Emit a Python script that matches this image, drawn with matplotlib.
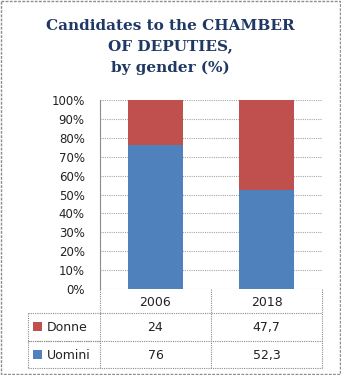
import matplotlib.pyplot as plt
from matplotlib.patches import Rectangle

years = ["2006", "2018"]
donne = [24, 47.7]
uomini = [76, 52.3]
series_names = ["Donne", "Uomini"]
yticks = list(range(0, 101, 10))

c_red = "#C0504D"
c_blue = "#4F81BD"
c_line = "#8c8c8c"
c_text = "#222222"

W, H = 341, 375
fig = plt.figure(figsize=(W / 100, H / 100), dpi=100)

# overlay axes in pixel coordinates for frame, title and table
ov = fig.add_axes([0, 0, 1, 1])
ov.set_xlim(0, W)
ov.set_ylim(H, 0)
ov.axis("off")

# plot area in pixel coords
x0, x1, ytop, ybot = 100, 322, 100, 289
ax = fig.add_axes([x0 / W, 1 - ybot / H, (x1 - x0) / W, (ybot - ytop) / H])

x = range(len(years))
ax.bar(x, uomini, width=0.5, color=c_blue, zorder=3)
ax.bar(x, donne, width=0.5, bottom=uomini, color=c_red, zorder=3)

ax.set_xlim(-0.5, len(years) - 0.5)
ax.set_ylim(0, 100)
ax.set_yticks(yticks)
ax.set_yticklabels([f"{v}%" for v in yticks], fontsize=8.5, color=c_text)
ax.tick_params(axis="y", length=0, pad=11)
ax.set_xticks([])
ax.grid(axis="y", color="#a6a6a6", linestyle=(0, (1, 1)), linewidth=0.8, zorder=0)
for side in ["top", "right", "bottom"]:
    ax.spines[side].set_visible(False)
ax.spines["left"].set_color(c_line)
ax.spines["left"].set_linewidth(0.8)
ax.spines["left"].set_linestyle((0, (1, 1)))

# data table below the chart
tleft = 28
col_w = (x1 - x0) / len(years)
hdr_h, row_h = 24, 27.5
rows = [donne, uomini]
colors = [c_red, c_blue]
ls = dict(color=c_line, lw=0.8, linestyle=(0, (1, 1)))
fs = 9

# header row (no label cell)
ov.plot([x0, x1], [ybot + hdr_h] * 2, **ls)
ov.plot([x1, x1], [ybot, ybot + hdr_h + row_h * len(rows)], **ls)
for j, yr in enumerate(years):
    xl = x0 + j * col_w
    ov.plot([xl, xl], [ybot, ybot + hdr_h + row_h * len(rows)], **ls)
    ov.text(xl + col_w / 2, ybot + hdr_h / 2 + 1, yr, ha="center", va="center",
            fontsize=fs, color=c_text)

ov.plot([tleft, tleft], [ybot + hdr_h, ybot + hdr_h + row_h * len(rows)], **ls)
for i, (name, vals, col) in enumerate(zip(series_names, rows, colors)):
    yt = ybot + hdr_h + i * row_h
    yb = yt + row_h
    ov.plot([tleft, x0], [yt, yt], **ls)
    ov.plot([tleft, x1], [yb, yb], **ls)
    ov.add_patch(Rectangle((33, yt + row_h / 2 - 4.5), 9, 9, facecolor=col, edgecolor="none"))
    ov.text(47, yt + row_h / 2 + 1, name, ha="left", va="center", fontsize=fs, color=c_text)
    for j, v in enumerate(vals):
        ov.text(x0 + j * col_w + col_w / 2, yt + row_h / 2 + 1, f"{v:g}".replace(".", ","),
                ha="center", va="center", fontsize=fs, color=c_text)

ov.text(170, 47, "Candidates to the CHAMBER\nOF DEPUTIES,\nby gender (%)",
        ha="center", va="center", fontsize=11, fontweight="bold",
        family="DejaVu Serif", color="#1F3864", linespacing=1.65)

ov.add_patch(Rectangle((1, 1), W - 2, H - 2, fill=False, edgecolor=c_line,
                       linestyle=(0, (2, 1)), linewidth=1))

fig.savefig("out.png", dpi=100)
